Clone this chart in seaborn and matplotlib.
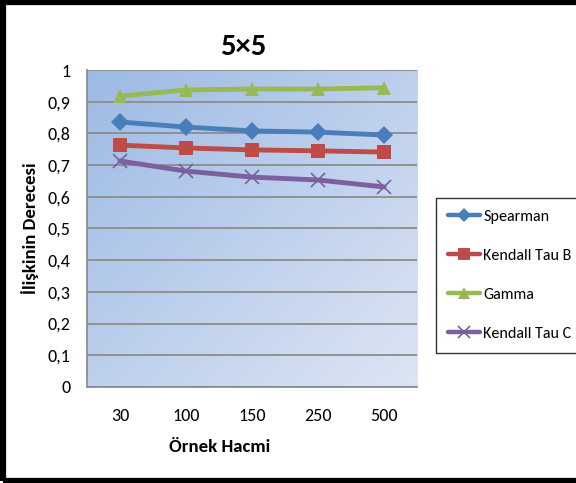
import numpy as np
import pandas as pd
import matplotlib
matplotlib.use("Agg")
import matplotlib.pyplot as plt
import seaborn as sns
from matplotlib.patches import Rectangle

sample_sizes = ["30", "100", "150", "250", "500"]
spearman = [0.836, 0.820, 0.808, 0.804, 0.795]
kendall_b = [0.763, 0.754, 0.748, 0.745, 0.741]
gamma = [0.918, 0.937, 0.940, 0.940, 0.944]
kendall_c = [0.713, 0.681, 0.662, 0.653, 0.631]
y_ticks = [0, 0.1, 0.2, 0.3, 0.4, 0.5, 0.6, 0.7, 0.8, 0.9, 1]
y_tick_labels = ["0", "0,1", "0,2", "0,3", "0,4", "0,5", "0,6", "0,7", "0,8", "0,9", "1"]

series = {
    "Spearman": spearman,
    "Kendall Tau B": kendall_b,
    "Gamma": gamma,
    "Kendall Tau C": kendall_c,
}
rows = []
for name, vals in series.items():
    for i, v in enumerate(vals):
        rows.append({"pos": i, "value": v, "series": name})
df = pd.DataFrame(rows)

sns.set_style("white")
plt.rcParams["font.family"] = ["Carlito", "DejaVu Sans"]
plt.rcParams["text.color"] = "black"
plt.rcParams["axes.labelcolor"] = "black"
plt.rcParams["xtick.color"] = "black"
plt.rcParams["ytick.color"] = "black"

fig = plt.figure(figsize=(5.76, 4.83), dpi=100)
ax = fig.add_axes([0.151, 0.199, 0.573, 0.656])

# diagonal gradient fill of the plot area: darker top-left, lighter bottom-right
nx, ny = 200, 200
xx, yy = np.meshgrid(np.linspace(0, 1, nx), np.linspace(0, 1, ny))
t = np.clip((xx + yy) / 2, 0, 1)
c0 = np.array([0x9c, 0xba, 0xe4]) / 255
c1 = np.array([0xdd, 0xe5, 0xf4]) / 255
img = c0[None, None, :] * (1 - t[..., None]) + c1[None, None, :] * t[..., None]
ax.imshow(img, extent=[0, 1, 0, 1], transform=ax.transAxes, aspect="auto",
          origin="upper", zorder=0)

palette = {
    "Spearman": "#4a7ebb",
    "Kendall Tau B": "#be4b48",
    "Gamma": "#98b954",
    "Kendall Tau C": "#7d5fa0",
}
markers = {"Spearman": "D", "Kendall Tau B": "s", "Gamma": "^", "Kendall Tau C": "x"}
sizes = {"Spearman": 9, "Kendall Tau B": 10, "Gamma": 10, "Kendall Tau C": 10}

for name in series:
    sub = df[df["series"] == name]
    sns.lineplot(data=sub, x="pos", y="value", ax=ax, color=palette[name],
                 linewidth=3.5, marker=markers[name], markersize=sizes[name],
                 markeredgecolor=palette[name],
                 markeredgewidth=1.2 if name == "Kendall Tau C" else 0,
                 label=name, zorder=3)

ax.set_xlim(-0.5, 4.5)
ax.set_ylim(0, 1)
ax.set_yticks(y_ticks)
ax.set_yticklabels(y_tick_labels, fontsize=13)
ax.set_xticks(range(len(sample_sizes)))
ax.set_xticklabels(sample_sizes, fontsize=13)
ax.tick_params(axis="x", length=0, pad=15)
ax.tick_params(axis="y", length=0, pad=12)
ax.grid(axis="y", color="#8c8c8c", linewidth=1.3, zorder=1)
ax.set_axisbelow(True)
for s in ["top", "right"]:
    ax.spines[s].set_visible(False)
for s in ["left", "bottom"]:
    ax.spines[s].set_color("#8c8c8c")
    ax.spines[s].set_linewidth(1.3)

ax.set_xlabel("Örnek Hacmi", fontsize=13.5, fontweight="bold")
ax.xaxis.set_label_coords((220 - 87) / 330, -0.165)
ax.set_ylabel("İlişkinin Derecesi", fontsize=13.5, fontweight="bold", labelpad=6)
fig.text(0.423, 0.903, "5×5", fontsize=22, fontweight="bold", ha="center", va="center")

leg = ax.legend(loc="center left", bbox_to_anchor=(1.058, 0.353), frameon=True,
                fancybox=False, fontsize=11.5, handlelength=2.0, labelspacing=1.55,
                borderpad=0.75, handletextpad=0.2, borderaxespad=0, markerscale=0.8)
leg.get_frame().set_edgecolor("black")
leg.get_frame().set_linewidth(1.0)
for line in leg.get_lines():
    line.set_linewidth(3.2)

# outer chart border (right edge runs off the canvas)
fig.patches.append(Rectangle((0.005, 0.005), 1.2, 0.99, transform=fig.transFigure,
                             fill=False, edgecolor="black", linewidth=4.5))

fig.savefig("out.png", dpi=100)
